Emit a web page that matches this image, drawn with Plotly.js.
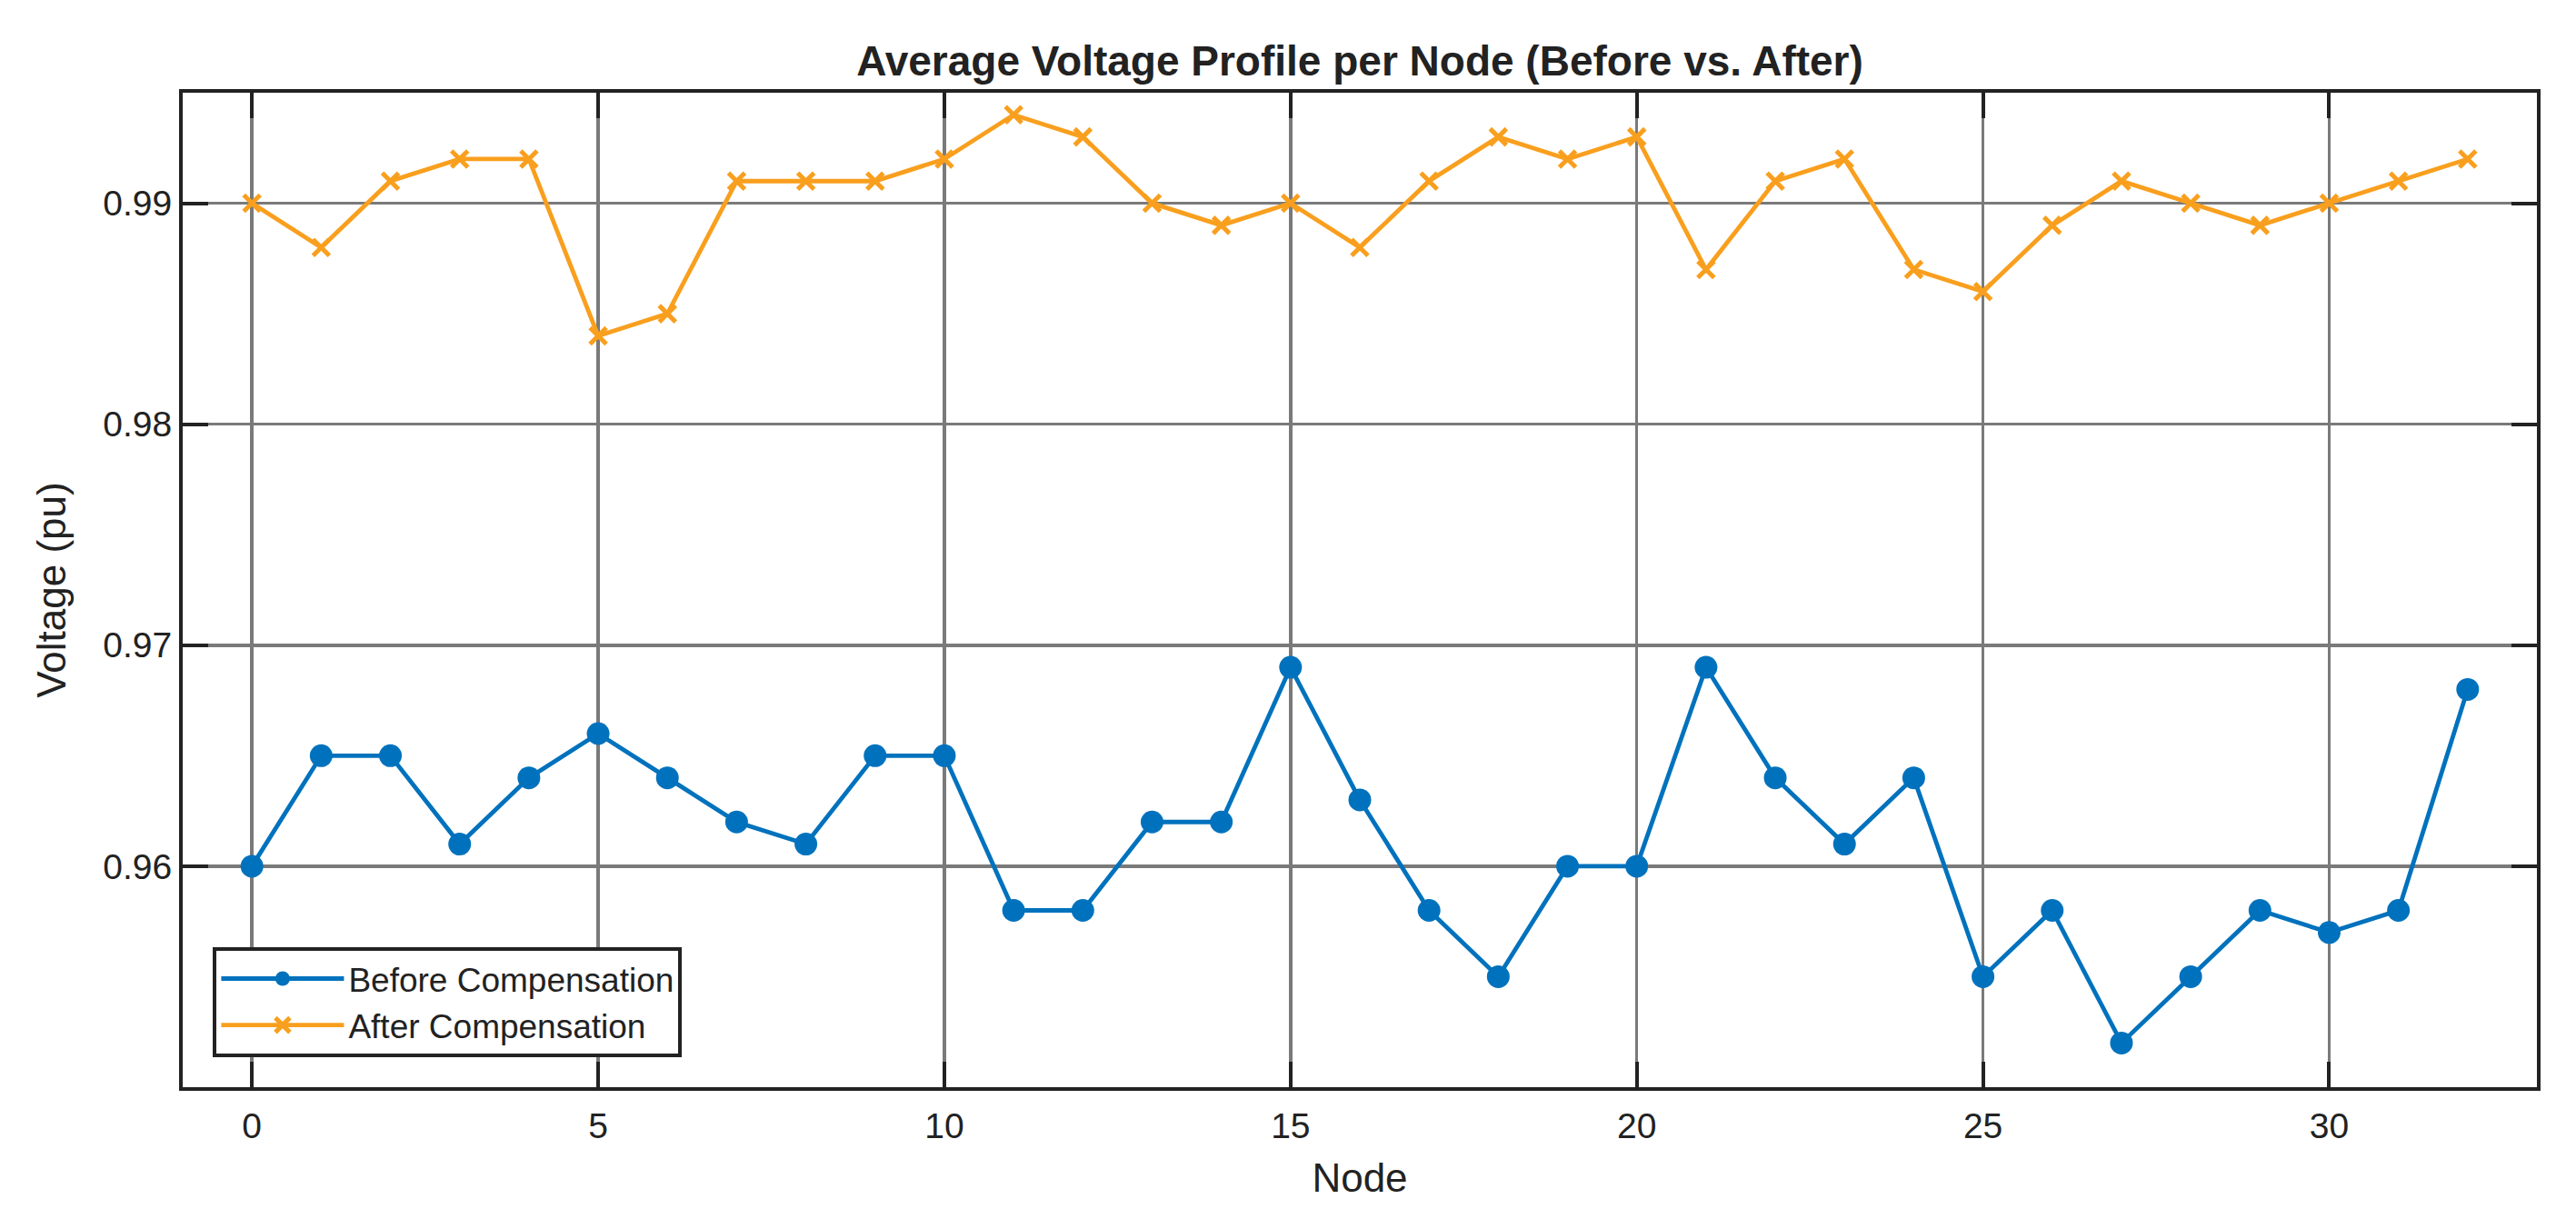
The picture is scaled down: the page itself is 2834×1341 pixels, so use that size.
<!DOCTYPE html>
<html>
<head>
<meta charset="utf-8">
<script src="https://cdn.plot.ly/plotly-3.0.1.min.js"></script>
<style>html,body{margin:0;padding:0;background:#fff;}</style>
</head>
<body>
<div id="chart" style="width:2834px;height:1341px;"></div>
<script>
const nodes = [0,1,2,3,4,5,6,7,8,9,10,11,12,13,14,15,16,17,18,19,20,21,22,23,24,25,26,27,28,29,30,31,32];
const before = [0.960,0.965,0.965,0.961,0.964,0.966,0.964,0.962,0.961,0.965,0.965,0.958,0.958,0.962,0.962,0.969,0.963,0.958,0.955,0.960,0.960,0.969,0.964,0.961,0.964,0.955,0.958,0.952,0.955,0.958,0.957,0.958,0.968];
const after = [0.990,0.988,0.991,0.992,0.992,0.984,0.985,0.991,0.991,0.991,0.992,0.994,0.993,0.990,0.989,0.990,0.988,0.991,0.993,0.992,0.993,0.987,0.991,0.992,0.987,0.986,0.989,0.991,0.990,0.989,0.990,0.991,0.992];
const xTicks = [0,5,10,15,20,25,30];
const yTicks = [0.96,0.97,0.98,0.99];
const yTickText = ['0.96','0.97','0.98','0.99'];

const blue = '#0072BD';
const orange = '#F99F1E';
const dark = '#222222';

const traces = [
  {x: nodes, y: before, name: 'Before Compensation', type: 'scatter', mode: 'lines+markers',
   line: {color: blue, width: 4.8}, marker: {symbol: 'circle', size: 25, color: blue}},
  {x: nodes, y: after, name: 'After Compensation', type: 'scatter', mode: 'lines+markers',
   line: {color: orange, width: 4.8}, marker: {symbol: 'x-thin', size: 18, color: orange, line: {color: orange, width: 5}}}
];

const axisCommon = {
  showline: true, linecolor: dark, linewidth: 4, mirror: 'allticks',
  ticks: 'inside', ticklen: 28, tickwidth: 4, tickcolor: dark,
  showgrid: true, gridcolor: '#7a7a7a', gridwidth: 3.5, zeroline: false,
  tickfont: {family: 'Liberation Sans, Arial, sans-serif', size: 39, color: dark},
  automargin: false
};

const layout = {
  width: 2834, height: 1341,
  margin: {l: 201, r: 43, t: 102, b: 145},
  paper_bgcolor: '#ffffff', plot_bgcolor: '#ffffff',
  font: {family: 'Liberation Sans, Arial, sans-serif', color: dark},
  title: {text: '<b>Average Voltage Profile per Node (Before vs. After)</b>',
          font: {family: 'Liberation Sans, Arial, sans-serif', size: 46, color: dark},
          x: 0.5, xref: 'paper', y: 1 - 67/1341, yref: 'container', yanchor: 'middle'},
  xaxis: Object.assign({}, axisCommon, {
    range: [-1, 33], tickmode: 'array', tickvals: xTicks, ticklabelstandoff: 5,
    title: {text: 'Node', font: {size: 44, color: dark}, standoff: 22}
  }),
  yaxis: Object.assign({}, axisCommon, {
    range: [0.95, 0.995], tickmode: 'array', tickvals: yTicks, ticktext: yTickText,
    title: {text: 'Voltage (pu)', font: {size: 44, color: dark}, standoff: 28}
  }),
  showlegend: true,
  legend: {x: 0.0129, y: 0.0302, xanchor: 'left', yanchor: 'bottom',
           bgcolor: '#ffffff', bordercolor: dark, borderwidth: 4,
           font: {size: 37, color: dark}, itemwidth: 135, tracegroupgap: 0,
           entrywidth: 530, entrywidthmode: 'pixels'}
};

Plotly.newPlot('chart', traces, layout, {displayModeBar: false, staticPlot: true});
</script>
</body>
</html>
